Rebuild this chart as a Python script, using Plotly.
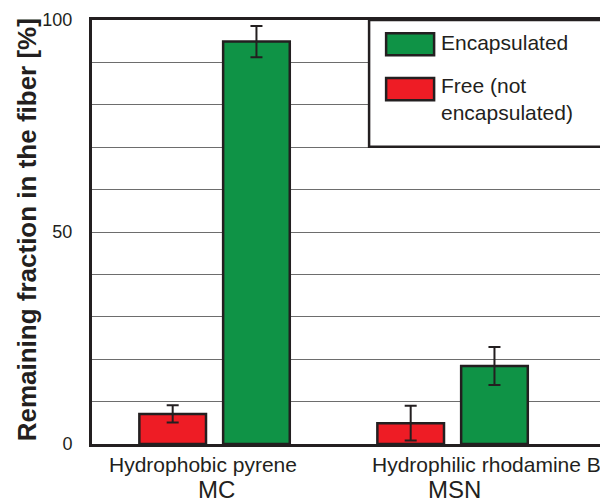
import plotly.graph_objects as go

# ---- data ----
categories = ["MC", "MSN"]
dye_labels = ["Hydrophobic pyrene", "Hydrophilic rhodamine B"]
free_values = [7.1, 4.9]
free_errors = [2.05, 4.1]
encap_values = [94.9, 18.4]
encap_errors = [3.7, 4.5]
y_tickvals = [0, 10, 20, 30, 40, 50, 60, 70, 80, 90, 100]
y_ticktext = ["0", "", "", "", "", "50", "", "", "", "", "100"]

DARK = "#231f20"
GREEN = "#0f9346"
RED = "#ee1c25"
FONT = "Liberation Sans, Arial, sans-serif"

fig = go.Figure()
fig.add_trace(go.Bar(
    x=categories, y=free_values, name="Free (not encapsulated)",
    width=0.28, offset=-0.316,
    marker=dict(color=RED, line=dict(color=DARK, width=2.5)),
    error_y=dict(type="data", array=free_errors, color=DARK, thickness=2, width=6),
    showlegend=False,
))
fig.add_trace(go.Bar(
    x=categories, y=encap_values, name="Encapsulated",
    width=0.28, offset=0.036,
    marker=dict(color=GREEN, line=dict(color=DARK, width=2.5)),
    error_y=dict(type="data", array=encap_errors, color=DARK, thickness=2, width=6),
    showlegend=False,
))

# category labels
for cat, dye, dx in zip(categories, dye_labels, [-12, 34]):
    fig.add_annotation(x=cat, y=0, xref="x", yref="paper", yanchor="top",
                       text=dye, showarrow=False, xshift=dx, yshift=-7,
                       font=dict(family=FONT, size=21, color=DARK))
    fig.add_annotation(x=cat, y=0, xref="x", yref="paper", yanchor="top",
                       text=cat, showarrow=False, xshift=2, yshift=-30,
                       font=dict(family=FONT, size=24, color=DARK))

# y title
fig.add_annotation(x=-0.127, y=0.505, xref="paper", yref="paper", xanchor="center", yanchor="middle",
                   text="<b>Remaining fraction in the fiber [%]</b>", textangle=-90,
                   showarrow=False, font=dict(family=FONT, size=26, color=DARK))

# manual legend
fig.add_shape(type="rect", xref="paper", yref="paper", x0=0.537, x1=1.05, y0=0.701, y1=1.0,
              line=dict(color=DARK, width=2.5), fillcolor="white", layer="above")
fig.add_shape(type="rect", xref="paper", yref="paper", x0=0.570, x1=0.663, y0=0.917, y1=0.969,
              line=dict(color=DARK, width=2.5), fillcolor=GREEN, layer="above")
fig.add_shape(type="rect", xref="paper", yref="paper", x0=0.570, x1=0.663, y0=0.811, y1=0.863,
              line=dict(color=DARK, width=2.5), fillcolor=RED, layer="above")
fig.add_annotation(x=0.672, y=0.946, xref="paper", yref="paper", xanchor="left", yanchor="middle",
                   text="Encapsulated", showarrow=False, align="left",
                   font=dict(family=FONT, size=21, color=DARK))
fig.add_annotation(x=0.672, y=0.814, xref="paper", yref="paper", xanchor="left", yanchor="middle",
                   text="Free (not<br>encapsulated)", showarrow=False, align="left",
                   font=dict(family=FONT, size=21, color=DARK))

# page has an 8px body margin, so the figure is 600x494 and shifted accordingly
fig.update_layout(
    width=600, height=494,
    margin=dict(l=84, r=0, t=12, b=58),
    paper_bgcolor="white", plot_bgcolor="white",
    barmode="overlay",
    font=dict(family=FONT, color=DARK),
    xaxis=dict(range=[-0.515, 1.653], showticklabels=False, ticks="",
               showline=True, linecolor=DARK, linewidth=3, mirror=True,
               showgrid=False, zeroline=False),
    yaxis=dict(range=[0, 100], tickvals=y_tickvals, ticktext=y_ticktext,
               tickfont=dict(family=FONT, size=18, color=DARK), ticks="",
               ticklabelstandoff=13,
               showline=True, linecolor=DARK, linewidth=3,
               showgrid=True, gridcolor="#6d6d6d", gridwidth=1, zeroline=False),
)

fig.write_html("out.html")
